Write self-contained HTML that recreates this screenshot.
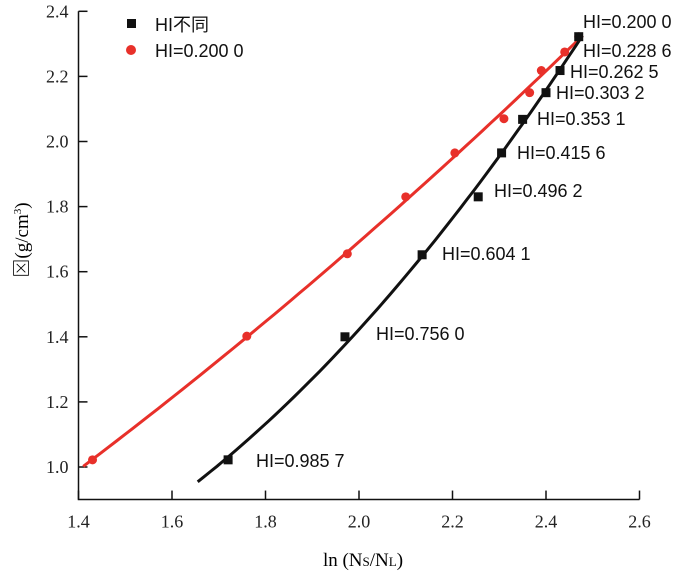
<!DOCTYPE html>
<html><head><meta charset="utf-8"><style>
body{margin:0;background:#fff;}
svg{display:block;font-family:"Liberation Serif","Noto Serif CJK SC",serif;}
.lbl{font-family:"Liberation Sans","Noto Sans CJK SC",sans-serif;font-size:18px;fill:#111;}
.tick{font-size:18px;fill:#222;}
</style></head><body>
<svg id="chart" width="700" height="575" viewBox="0 0 700 575"></svg>
<script>
const xTicks=[1.4,1.6,1.8,2.0,2.2,2.4,2.6];
const yTicks=[1.0,1.2,1.4,1.6,1.8,2.0,2.2,2.4];
const blackX=[1.72,1.97,2.135,2.255,2.305,2.35,2.40,2.43,2.47];
const blackY=[1.022,1.40,1.652,1.83,1.965,2.068,2.15,2.218,2.322];
const redX=[1.43,1.76,1.975,2.10,2.205,2.31,2.365,2.39,2.44,2.47];
const redY=[1.022,1.402,1.655,1.83,1.965,2.07,2.15,2.218,2.275,2.322];
const blackLabels=["HI=0.985 7","HI=0.756 0","HI=0.604 1","HI=0.496 2","HI=0.415 6","HI=0.353 1","HI=0.303 2","HI=0.262 5","HI=0.228 6","HI=0.200 0"];
const labelPos=[[256,467],[376,340],[442,260],[494,197],[517,159],[537,125],[556,99],[570,78],[583,57],[583,28]];
const blackRange=[1.655,2.478];
const redRange=[1.41,2.478];

const X=v=>78.5+(v-1.4)*467.5;
const Y=v=>467-(v-1.0)*325.5;
const svg=document.getElementById('chart');
const NS='http://www.w3.org/2000/svg';
function mk(tag,attrs,parent){const e=document.createElementNS(NS,tag);for(const k in attrs)e.setAttribute(k,attrs[k]);(parent||svg).appendChild(e);return e;}

// axes
let ax=mk('path',{d:`M${X(1.4)} ${Y(2.4)} V${Y(0.9)} H${X(2.6)}`,stroke:'#111','stroke-width':1.5,fill:'none'});


xTicks.forEach(t=>{
  let l=mk('line',{x1:X(t),x2:X(t),y1:Y(0.9),y2:Y(0.9)-9,stroke:'#111','stroke-width':1.5});
  
  
  let tx=mk('text',{x:X(t),y:Y(0.9)+28,'text-anchor':'middle',class:'tick'});
  tx.textContent=t.toFixed(1);
  
  
});
yTicks.forEach(t=>{
  let l=mk('line',{x1:X(1.4),x2:X(1.4)+9,y1:Y(t),y2:Y(t),stroke:'#111','stroke-width':1.5});
  
  
  let tx=mk('text',{x:X(1.4)-10,y:Y(t)+6,'text-anchor':'end',class:'tick'});
  tx.textContent=t.toFixed(1);
  
  
});

function quadFit(xs,ys){
  let n=xs.length,S=[0,0,0,0,0],T=[0,0,0];
  for(let i=0;i<n;i++){let p=1;for(let k=0;k<5;k++){S[k]+=p;if(k<3)T[k]+=p*ys[i];p*=xs[i];}}
  const A=[[S[0],S[1],S[2],T[0]],[S[1],S[2],S[3],T[1]],[S[2],S[3],S[4],T[2]]];
  for(let i=0;i<3;i++){for(let j=i+1;j<3;j++){const f=A[j][i]/A[i][i];for(let k=i;k<4;k++)A[j][k]-=f*A[i][k];}}
  const c=[0,0,0];
  for(let i=2;i>=0;i--){let s=A[i][3];for(let k=i+1;k<3;k++)s-=A[i][k]*c[k];c[i]=s/A[i][i];}
  return x=>c[0]+c[1]*x+c[2]*x*x;
}
function curve(xs,ys,range,color,name){
  const f=quadFit(xs,ys);let d='';
  for(let i=0;i<=60;i++){const x=range[0]+(range[1]-range[0])*i/60;d+=(i?'L':'M')+X(x).toFixed(1)+' '+Y(f(x)).toFixed(1);}
  let p=mk('path',{d:d,stroke:color,'stroke-width':3,fill:'none'});
  
  
}
curve(redX,redY,redRange,'#e8302a','red-fit-line');
curve(blackX,blackY,blackRange,'#111','black-fit-line');
redX.forEach((x,i)=>{
  let c=mk('circle',{cx:X(x),cy:Y(redY[i]),r:4.5,fill:'#e8302a'});
  
  
});
blackX.forEach((x,i)=>{
  let r=mk('rect',{x:X(x)-4.5,y:Y(blackY[i])-4.5,width:9,height:9,fill:'#111'});
  
  
});
blackLabels.forEach((s,i)=>{
  let t=mk('text',{x:labelPos[i][0],y:labelPos[i][1],class:'lbl'});
  t.textContent=s;
  
  
});
</script>
<svg style="position:absolute;left:0;top:0" width="700" height="575">
  <rect x="127" y="19" width="9" height="9" fill="#111"/>
  <text x="155" y="31" class="lbl">HI不同</text>
  <circle cx="131" cy="50" r="5" fill="#e8302a"/>
  <text x="155" y="57" class="lbl">HI=0.200 0</text>
  <text transform="translate(28,240) rotate(-90)" text-anchor="middle" style="font-size:19px">⊠(g/cm<tspan dy="-7" style="font-size:11px">3</tspan><tspan dy="7">)</tspan></text>
  <text x="363" y="566" text-anchor="middle" style="font-size:19px">ln (N<tspan style="font-size:13px">S</tspan>/N<tspan style="font-size:13px">L</tspan>)</text>
</svg>
</body></html>
